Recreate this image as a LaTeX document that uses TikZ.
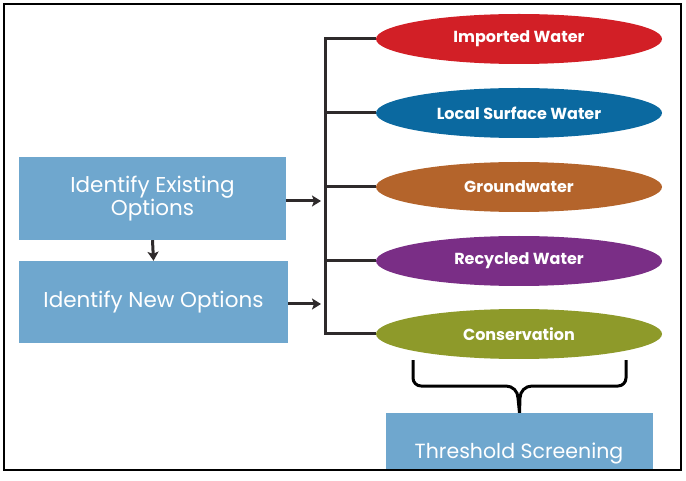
\documentclass[tikz,border=0pt]{standalone}
\usepackage{fontspec}
\setmainfont{Poppins}
\usetikzlibrary{shapes.geometric,arrows.meta}
\definecolor{boxblue}{HTML}{6FA7CE}
\definecolor{cred}{HTML}{D21F26}
\definecolor{cblue}{HTML}{0B69A0}
\definecolor{cbrown}{HTML}{B4642B}
\definecolor{cpurple}{HTML}{7A2E86}
\definecolor{colive}{HTML}{8E9A2A}
\definecolor{lin}{HTML}{2E2A2B}
\tikzset{
  stepbox/.style={draw=none,fill=boxblue,text=white,font=\fontsize{21.5}{24}\selectfont,align=center,inner sep=0pt},
  oval/.style={ellipse,draw=none,text=white,font=\bfseries\fontsize{16}{18}\selectfont,minimum width=286pt,minimum height=50pt,inner sep=0pt},
  conn/.style={draw=lin,line width=3pt},
  arr/.style={conn,-{Stealth[length=9pt,width=11pt,inset=2pt]}},
}
\begin{document}
\begin{tikzpicture}[x=1pt,y=-1pt]
\useasboundingbox (0,0) rectangle (686,481);
\draw[line width=1.6pt] (4,4) rectangle (681,470);
% left boxes
\node[stepbox,minimum width=267pt,minimum height=83pt] (exist) at (152.5,198.5) {Identify Existing\\[-1pt]Options};
\node[stepbox,minimum width=269pt,minimum height=82pt] (new) at (153.5,302) {Identify New Options};
% ellipses
\node[oval,fill=cred] (imp) at (519,39) {Imported Water};
\node[oval,fill=cblue] (lsw) at (519,113) {Local Surface Water};
\node[oval,fill=cbrown] (gw) at (519,187) {Groundwater};
\node[oval,fill=cpurple] (rw) at (519,261) {Recycled Water};
\node[oval,fill=colive] (cons) at (519,334) {Conservation};
% spine
\coordinate (top) at (325,39);
\coordinate (bot) at (325,334);
\draw[conn] (imp.west) -- (top) -- (bot) -- (cons.west);
\draw[conn] (lsw.west) -- (lsw.west -| top);
\draw[conn] (gw.west) -- (gw.west -| top);
\draw[conn] (rw.west) -- (rw.west -| top);
% arrows
\coordinate (a1) at (321,201);
\coordinate (a2) at (321,304);
\draw[arr] (exist.east |- a1) -- (a1);
\draw[arr] (new.east |- a2) -- (a2);
\draw[arr] (exist.south) -- (new.north);
% threshold
\node[stepbox,minimum width=267pt,minimum height=56pt] (thr) at (519.5,441) {};
\node[text=white,font=\fontsize{20.5}{23}\selectfont,inner sep=0pt] (thrtext) at (519,453) {Threshold Screening};
% brace
\draw[line width=3pt,black,line join=round] (413,360) -- (413,378) to[out=-90,in=180] (421,386) -- (506,386) to[out=0,in=90] (518,398) -- (thr.north);
\draw[line width=3pt,black,line join=round] (626,360) -- (626,378) to[out=-90,in=0] (618,386) -- (532,386) to[out=180,in=90] (520,398) -- (thr.north);
\end{tikzpicture}
\end{document}
